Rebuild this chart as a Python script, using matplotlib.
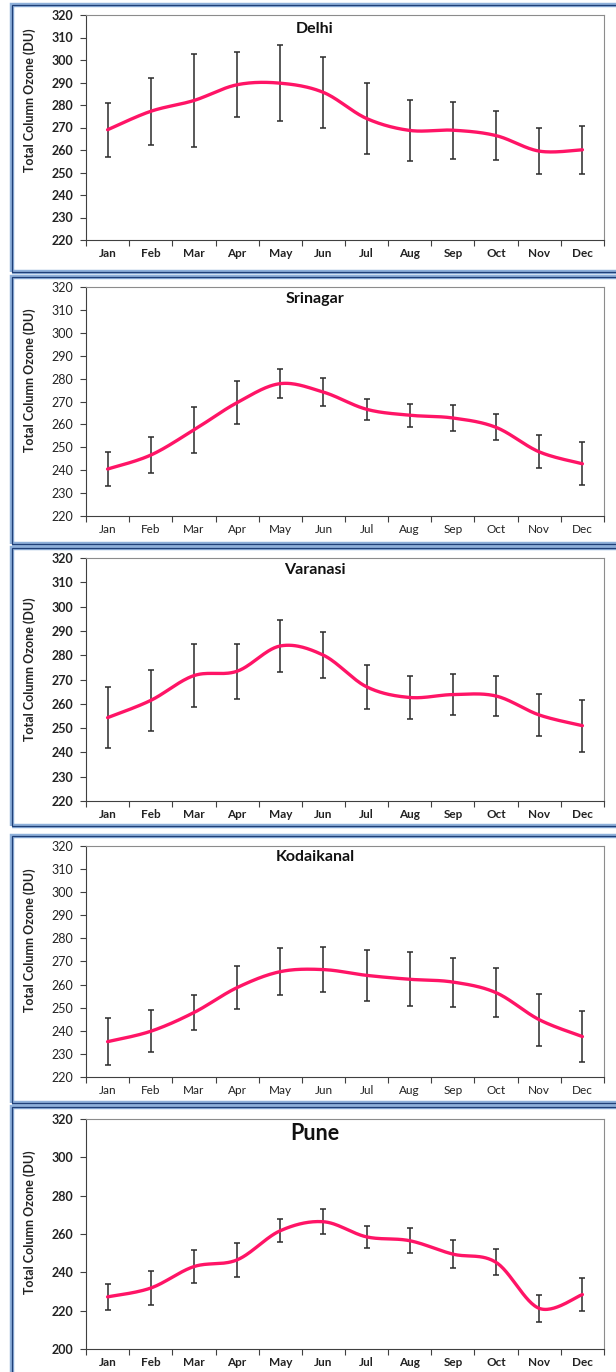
import numpy as np
import matplotlib
matplotlib.use('Agg')
import matplotlib.pyplot as plt
from matplotlib.patches import Rectangle

plt.rcParams['font.family'] = ['Lato', 'DejaVu Sans']

months = ['Jan', 'Feb', 'Mar', 'Apr', 'May', 'Jun', 'Jul', 'Aug', 'Sep', 'Oct', 'Nov', 'Dec']

# miesięczne średnie i odchylenia (DU)
delhi_mean = [269.0, 277.2, 282.0, 289.0, 289.7, 285.6, 274.0, 268.7, 268.8, 266.4, 259.5, 260.1]
delhi_std = [12.1, 14.9, 20.7, 14.5, 17.0, 15.6, 15.6, 13.7, 12.7, 10.8, 10.3, 10.6]

srinagar_mean = [240.5, 246.6, 257.6, 269.5, 277.8, 274.1, 266.6, 264.0, 262.8, 258.7, 248.0, 242.8]
srinagar_std = [7.5, 7.8, 10.1, 9.5, 6.4, 6.2, 4.5, 5.0, 5.7, 5.7, 7.2, 9.3]

varanasi_mean = [254.3, 261.4, 271.6, 273.4, 283.8, 280.0, 267.0, 262.6, 263.8, 263.2, 255.4, 251.0]
varanasi_std = [12.6, 12.7, 13.1, 11.3, 10.8, 9.5, 9.1, 8.7, 8.5, 8.4, 8.8, 10.7]

kodai_mean = [235.3, 239.8, 247.9, 258.7, 265.6, 266.5, 264.0, 262.3, 261.1, 256.5, 244.8, 237.5]
kodai_std = [10.2, 9.0, 7.6, 9.4, 10.3, 9.7, 11.0, 11.6, 10.6, 10.7, 11.3, 11.2]

pune_mean = [227.2, 231.8, 243.0, 246.5, 261.7, 266.4, 258.5, 256.5, 249.5, 245.2, 221.2, 228.4]
pune_std = [6.7, 9.0, 8.5, 9.0, 6.0, 6.6, 5.8, 6.5, 7.2, 6.8, 7.0, 8.4]


def smooth_line(y, n=30):
    """Wygładzenie jak w Excelu (krzywe Beziera, Catmull-Rom)"""
    y = np.asarray(y, dtype=float)
    x = np.arange(len(y), dtype=float)
    px = np.concatenate([[x[0]], x, [x[-1]]])
    py = np.concatenate([[y[0]], y, [y[-1]]])
    t = np.linspace(0, 1, n)
    xs, ys = [], []
    for i in range(1, len(px) - 2):
        p0 = np.array([px[i], py[i]])
        p3 = np.array([px[i + 1], py[i + 1]])
        c1 = p0 + (p3 - np.array([px[i - 1], py[i - 1]])) / 6
        c2 = p3 - (np.array([px[i + 2], py[i + 2]]) - p0) / 6
        pts = ((1 - t)[:, None] ** 3 * p0 + 3 * ((1 - t) ** 2 * t)[:, None] * c1
               + 3 * ((1 - t) * t ** 2)[:, None] * c2 + (t ** 3)[:, None] * p3)
        xs.append(pts[:, 0])
        ys.append(pts[:, 1])
    return np.concatenate(xs), np.concatenate(ys)


W, H = 616, 1372
fig = plt.figure(figsize=(W / 100, H / 100), dpi=100)

# (nazwa, średnie, std, góra osi, dół osi, ramka góra, ramka dół, ylim, krok, y tytułu, y etykiety, rozmiar tytułu, pogrubienie)
panels = [
    ('Delhi', delhi_mean, delhi_std, 15, 240, 5, 272, (220, 320), 10, 0.938, 0.62, 11.5, 'bold'),
    ('Srinagar', srinagar_mean, srinagar_std, 287, 516, 277, 544, (220, 320), 10, 0.948, 0.594, 11.5, 'normal'),
    ('Varanasi', varanasi_mean, varanasi_std, 558, 801, 548, 826, (220, 320), 10, 0.951, 0.543, 11.5, 'bold'),
    ('Kodaikanal', kodai_mean, kodai_std, 846, 1077, 836, 1103, (220, 320), 10, 0.952, 0.593, 11.5, 'normal'),
    ('Pune', pune_mean, pune_std, 1119, 1349, 1107, 1385, (200, 320), 20, 0.939, 0.552, 15.5, 'bold'),
]

left, right = 86, 604
for name, mean, std, top, bot, ftop, fbot, ylim, step, ty, ly, tsize, weight in panels:
    # ramka panelu (podwójna niebieska linia, prawa krawędź poza obrazem)
    fig.patches.append(Rectangle((12 / W, 1 - fbot / H), (640 - 12) / W, (fbot - ftop) / H,
                                 transform=fig.transFigure, fill=False,
                                 edgecolor='#8eb0da', linewidth=3.2))
    fig.patches.append(Rectangle((12 / W, 1 - fbot / H), (640 - 12) / W, (fbot - ftop) / H,
                                 transform=fig.transFigure, fill=False,
                                 edgecolor='#1f3f77', linewidth=0.9))

    ax = fig.add_axes([left / W, 1 - bot / H, (right - left) / W, (bot - top) / H])
    x = np.arange(12)
    sx, sy = smooth_line(mean)
    ax.errorbar(x, mean, yerr=std, fmt='none', ecolor='#2b2b2b', elinewidth=1.1,
                capsize=2.2, capthick=1.1, zorder=2)
    ax.plot(sx, sy, color='#ff1466', linewidth=2.4, solid_capstyle='round', zorder=3)

    ax.set_xlim(-0.5, 11.5)
    ax.set_ylim(*ylim)
    ax.set_yticks(np.arange(ylim[0], ylim[1] + 1, step))
    ax.set_xticks(np.arange(-0.5, 12, 1))
    ax.set_xticklabels([])
    ax.set_xticks(x, minor=True)
    ax.set_xticklabels(months, minor=True, fontsize=8.5, fontweight=weight, color='#222222')
    ax.tick_params(axis='x', which='minor', length=0, pad=6)
    ax.tick_params(axis='x', which='major', direction='out', length=4, color='#404040')
    ax.tick_params(axis='y', direction='out', length=4, color='#404040', pad=5,
                   labelsize=9, labelcolor='#222222')
    for lab in ax.get_yticklabels():
        lab.set_fontweight(weight)

    for s in ['top', 'right']:
        ax.spines[s].set_color('#8c8c8c')
    for s in ['left', 'bottom']:
        ax.spines[s].set_color('#404040')

    ax.set_ylabel('Total Column Ozone (DU)', fontsize=9, fontweight='bold', color='#222222')
    ax.yaxis.set_label_coords(-0.097, ly)
    ax.text(0.442, ty, name, transform=ax.transAxes, ha='center', va='center',
            fontsize=tsize, fontweight='bold', color='#111111')

fig.savefig('out.png', dpi=100)
